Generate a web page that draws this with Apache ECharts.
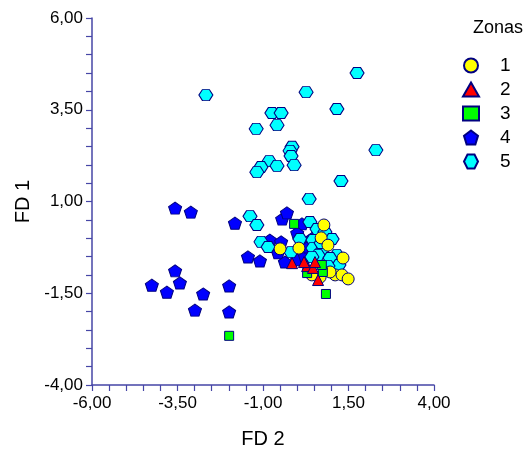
<!DOCTYPE html>
<html><head><meta charset="utf-8">
<script src="https://cdn.jsdelivr.net/npm/echarts@6/dist/echarts.min.js"></script>
<style>html,body{margin:0;padding:0;background:#fff}#c{width:529px;height:451px}</style>
</head><body><div id="c"></div>
<script>
const seriesNames = ['1','2','3','4','5'];
const zona1 = [[0.78,0.36],[0.70,0.01],[0.90,-0.19],[0.05,-0.27],[1.34,-0.54],[1.11,-1.00],[1.31,-1.00],[1.49,-1.11],[0.96,-0.92],[0.67,-1.06],[-0.50,-0.29],[0.43,-1.00]];
const zona2 = [[0.29,-0.76],[0.46,-0.81],[0.61,-1.14],[0.52,-0.65],[-0.15,-0.68],[0.20,-0.65]];
const zona3 = [[-0.09,0.39],[0.29,-0.95],[0.75,-0.92],[0.72,-0.73],[0.84,-1.52],[-1.99,-2.66]];
const zona4 = [[-3.57,0.82],[-3.11,0.71],[-1.82,0.41],[-3.57,-0.89],[-4.25,-1.28],[-3.43,-1.22],[-3.81,-1.47],[-2.75,-1.52],[-1.99,-1.30],[-2.99,-1.96],[-1.99,-2.01],[-1.44,-0.51],[-1.09,-0.62],[-0.80,-0.05],[-0.47,-0.10],[-0.56,-0.40],[-0.36,-0.65],[-0.44,0.52],[-0.30,0.69],[0.14,0.39],[0.00,0.14],[0.00,-0.59],[0.23,-0.51],[0.17,-0.19],[0.46,0.01],[0.32,-0.24]];
const zona5 = [[-2.67,3.90],[1.75,4.50],[0.26,3.98],[-0.74,3.41],[-0.47,3.41],[-0.59,3.08],[-1.20,2.98],[1.16,3.52],[2.30,2.40],[-0.15,2.49],[-0.21,2.38],[-0.18,2.24],[-0.09,1.99],[-0.82,2.10],[-1.06,1.94],[-1.18,1.80],[-0.59,1.97],[1.28,1.56],[0.35,1.07],
 [-1.38,0.60],[-1.18,0.36],[-1.06,-0.10],[-0.85,-0.24],[-0.18,-0.38],[0.37,0.44],[0.58,0.25],[0.81,0.17],[0.08,-0.02],[1.02,-0.02],[0.46,-0.05],[0.46,-0.27],[0.73,-0.32],[0.61,-0.46],[1.16,-0.46],[0.96,-0.54],[1.22,-0.73],[0.90,-0.76],[0.43,-0.51],[0.70,-0.13]];
const xTicks = [-6, -3.5, -1, 1.5, 4];
const yTicks = [-4, -1.5, 1, 3.5, 6];

const PENT = 'path://M50,0 L100,38 L81,100 L19,100 L0,38 Z';
const HEX = 'path://M0,50 L25,0 L75,0 L100,50 L75,100 L25,100 Z';
const border = '#000080';
const axisCol = '#4646a6';
const fmt = v => v.toFixed(2).replace('.', ',');
const font = 'Liberation Sans, Arial, sans-serif';

function mk(name, data, symbol, size, color, z){
  return {name, type:'scatter', data, symbol, symbolSize:size, z,
    itemStyle:{color, borderColor:border, borderWidth:1, opacity:1}};
}
const axisCommon = (min,max)=>({
  type:'value', min, max, interval:2.5,
  axisLine:{show:true, onZero:false, lineStyle:{color:axisCol, width:1.5}},
  axisTick:{show:true, inside:false, length:6, lineStyle:{color:axisCol, width:1.2}},
  minorTick:{show:true, splitNumber:5, length:6, lineStyle:{color:axisCol, width:1.2}},
  splitLine:{show:false},
  axisLabel:{formatter:fmt, color:'#000', fontSize:17, fontFamily:font, margin:9},
  nameLocation:'middle', nameTextStyle:{color:'#000', fontSize:20, fontFamily:font}
});
const chart = echarts.init(document.getElementById('c'), null, {renderer:'canvas'});
const xAx = Object.assign(axisCommon(xTicks[0], xTicks[xTicks.length-1]), {name:'FD 2', nameGap:44});
xAx.axisLabel = Object.assign({}, xAx.axisLabel, {margin:10});
chart.setOption({
  animation:false,
  backgroundColor:'#fff',
  title:{text:'Zonas', left:468, top:14, textStyle:{fontSize:18, fontWeight:'normal', color:'#000', fontFamily:font}},
  legend:{orient:'vertical', left:457, top:51, itemWidth:16, itemHeight:14, itemGap:5,
    textStyle:{fontSize:19, color:'#000', fontFamily:font, padding:[0,0,0,16]},
    data:[{name:'1',icon:'circle'},{name:'2',icon:'triangle'},{name:'3',icon:'rect'},{name:'4',icon:PENT},{name:'5',icon:HEX}]},
  grid:{left:92, top:18, right:95, bottom:66, containLabel:false, outerBoundsMode:'none'},
  xAxis:xAx,
  yAxis:Object.assign(axisCommon(yTicks[0], yTicks[yTicks.length-1]), {name:'FD 1', nameGap:57}),
  series:[
    mk(seriesNames[3], zona4, PENT, [13,12], '#0000ff', 2),
    mk(seriesNames[4], zona5, HEX, [14,11], '#00ffff', 3),
    mk(seriesNames[0], zona1, 'circle', 12, '#ffff00', 4),
    mk(seriesNames[2], zona3, 'rect', 9, '#00ff00', 5),
    mk(seriesNames[1], zona2, 'triangle', 11, '#ff0000', 6)
  ]
});
</script></body></html>
